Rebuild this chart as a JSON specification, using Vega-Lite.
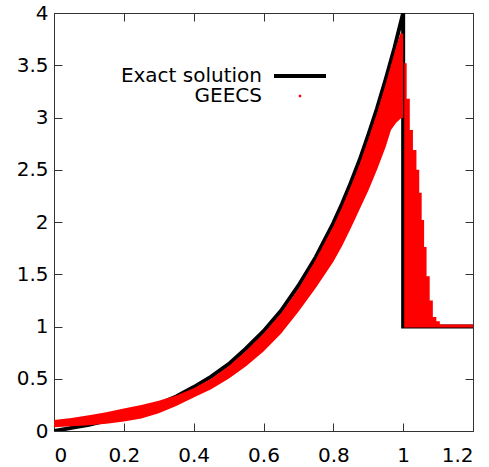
{
  "$schema": "https://vega.github.io/schema/vega-lite/v6.json",
  "width": 419,
  "height": 418,
  "autosize": "none",
  "padding": {"left": 54, "top": 13, "right": 16, "bottom": 36},
  "background": "white",
  "config": {
    "view": {"stroke": "#333", "strokeWidth": 1},
    "axis": {
      "domain": false,
      "grid": false,
      "title": null,
      "tickColor": "#333",
      "tickSize": -8,
      "tickWidth": 1,
      "labelFont": "DejaVu Sans",
      "labelFontSize": 20,
      "labelColor": "black",
      "format": "~g"
    }
  },
  "datasets": {
    "exact": [
      {"i": 0, "x": 0, "y": 0},
      {"i": 1, "x": 0.05, "y": 0.03},
      {"i": 2, "x": 0.1, "y": 0.06},
      {"i": 3, "x": 0.15, "y": 0.1},
      {"i": 4, "x": 0.2, "y": 0.14},
      {"i": 5, "x": 0.25, "y": 0.2},
      {"i": 6, "x": 0.3, "y": 0.26},
      {"i": 7, "x": 0.35, "y": 0.33},
      {"i": 8, "x": 0.4, "y": 0.42},
      {"i": 9, "x": 0.45, "y": 0.52},
      {"i": 10, "x": 0.5, "y": 0.64},
      {"i": 11, "x": 0.55, "y": 0.79},
      {"i": 12, "x": 0.6, "y": 0.955},
      {"i": 13, "x": 0.65, "y": 1.15},
      {"i": 14, "x": 0.7, "y": 1.39},
      {"i": 15, "x": 0.75, "y": 1.665},
      {"i": 16, "x": 0.8, "y": 1.99},
      {"i": 17, "x": 0.825, "y": 2.175},
      {"i": 18, "x": 0.85, "y": 2.375},
      {"i": 19, "x": 0.875, "y": 2.59},
      {"i": 20, "x": 0.9, "y": 2.83},
      {"i": 21, "x": 0.925, "y": 3.085},
      {"i": 22, "x": 0.95, "y": 3.365},
      {"i": 23, "x": 0.975, "y": 3.665},
      {"i": 24, "x": 1.0, "y": 4.0},
      {"i": 25, "x": 1.0, "y": 1.0},
      {"i": 26, "x": 1.2, "y": 1.0}
    ],
    "band": [
      {"x": 0.0, "lo": 0.035, "hi": 0.105},
      {"x": 0.05, "lo": 0.045, "hi": 0.125},
      {"x": 0.1, "lo": 0.055, "hi": 0.15},
      {"x": 0.15, "lo": 0.07, "hi": 0.18},
      {"x": 0.2, "lo": 0.09, "hi": 0.215},
      {"x": 0.25, "lo": 0.12, "hi": 0.25},
      {"x": 0.3, "lo": 0.17, "hi": 0.29},
      {"x": 0.35, "lo": 0.24, "hi": 0.34},
      {"x": 0.4, "lo": 0.32, "hi": 0.41},
      {"x": 0.45, "lo": 0.4, "hi": 0.5},
      {"x": 0.5, "lo": 0.5, "hi": 0.62},
      {"x": 0.55, "lo": 0.62, "hi": 0.765},
      {"x": 0.6, "lo": 0.76, "hi": 0.93},
      {"x": 0.65, "lo": 0.93, "hi": 1.125},
      {"x": 0.7, "lo": 1.14, "hi": 1.36},
      {"x": 0.75, "lo": 1.37, "hi": 1.64},
      {"x": 0.8, "lo": 1.62, "hi": 1.96},
      {"x": 0.825, "lo": 1.77, "hi": 2.14},
      {"x": 0.85, "lo": 1.94, "hi": 2.34},
      {"x": 0.875, "lo": 2.12, "hi": 2.55},
      {"x": 0.9, "lo": 2.3, "hi": 2.79},
      {"x": 0.925, "lo": 2.5, "hi": 3.04},
      {"x": 0.95, "lo": 2.72, "hi": 3.32},
      {"x": 0.965, "lo": 2.88, "hi": 3.5},
      {"x": 0.98, "lo": 2.95, "hi": 3.68},
      {"x": 0.993, "lo": 2.99, "hi": 3.81},
      {"x": 1.0, "lo": 3.0, "hi": 3.8}
    ],
    "tail": [
      {"x": 1.003, "lo": 0.99, "hi": 3.52},
      {"x": 1.01, "lo": 0.99, "hi": 3.18},
      {"x": 1.019, "lo": 0.99, "hi": 2.88},
      {"x": 1.028, "lo": 0.99, "hi": 2.69},
      {"x": 1.038, "lo": 0.99, "hi": 2.5},
      {"x": 1.046, "lo": 0.99, "hi": 2.28},
      {"x": 1.053, "lo": 0.99, "hi": 2.02},
      {"x": 1.06, "lo": 0.99, "hi": 1.76},
      {"x": 1.067, "lo": 0.99, "hi": 1.48},
      {"x": 1.076, "lo": 0.99, "hi": 1.25},
      {"x": 1.085, "lo": 0.99, "hi": 1.09},
      {"x": 1.095, "lo": 0.99, "hi": 1.05},
      {"x": 1.105, "lo": 0.99, "hi": 1.02},
      {"x": 1.2, "lo": 0.99, "hi": 1.02}
    ]
  },
  "layer": [
    {
      "data": {"name": "exact"},
      "mark": {"type": "line", "strokeWidth": 4, "clip": true},
      "encoding": {
        "x": {"field": "x", "type": "quantitative", "scale": {"domain": [0, 1.2], "nice": false},
              "axis": {"orient": "bottom", "values": [0, 0.2, 0.4, 0.6, 0.8, 1, 1.2], "labelPadding": 22}},
        "y": {"field": "y", "type": "quantitative", "scale": {"domain": [0, 4], "nice": false},
              "axis": {"orient": "left", "values": [0, 0.5, 1, 1.5, 2, 2.5, 3, 3.5, 4], "labelPadding": 14}},
        "order": {"field": "i"},
        "color": {
          "datum": "Exact solution",
          "scale": {"domain": ["Exact solution", "GEECS"], "range": ["black", "red"]},
          "legend": {
            "orient": "none",
            "legendX": 236,
            "legendY": 53,
            "title": null,
            "padding": 0,
            "labelFont": "DejaVu Sans",
            "labelFontSize": 20,
            "labelColor": "black",
            "labelAlign": "right",
            "labelOffset": -48,
            "symbolSize": 2704,
            "symbolType": "stroke",
            "symbolStrokeWidth": 4,
            "rowPadding": -15,
            "encode": {
              "symbols": {
                "update": {
                  "shape": {"signal": "datum.value === 'GEECS' ? 'square' : 'stroke'"},
                  "size": {"signal": "datum.value === 'GEECS' ? 6 : 2704"},
                  "fill": {"signal": "datum.value === 'GEECS' ? 'red' : 'transparent'"},
                  "stroke": {"signal": "datum.value === 'GEECS' ? 'transparent' : 'black'"},
                  "strokeWidth": {"signal": "datum.value === 'GEECS' ? 0 : 4"},
                  "opacity": {"value": 1}
                }
              }
            }
          }
        }
      }
    },
    {
      "data": {"name": "band"},
      "mark": {"type": "area", "clip": true, "opacity": 1},
      "encoding": {
        "x": {"field": "x", "type": "quantitative", "axis": {"orient": "top", "labels": false, "values": [0, 0.2, 0.4, 0.6, 0.8, 1, 1.2]}},
        "y": {"field": "hi", "type": "quantitative", "axis": {"orient": "right", "labels": false, "values": [0, 0.5, 1, 1.5, 2, 2.5, 3, 3.5, 4]}},
        "y2": {"field": "lo"},
        "color": {"datum": "GEECS"}
      }
    },
    {
      "data": {"name": "tail"},
      "mark": {"type": "area", "interpolate": "step-after", "clip": true, "opacity": 1},
      "encoding": {
        "x": {"field": "x", "type": "quantitative", "axis": null},
        "y": {"field": "hi", "type": "quantitative", "axis": null},
        "y2": {"field": "lo"},
        "color": {"datum": "GEECS"}
      }
    }
  ],
  "resolve": {"axis": {"x": "independent", "y": "independent"}}
}
